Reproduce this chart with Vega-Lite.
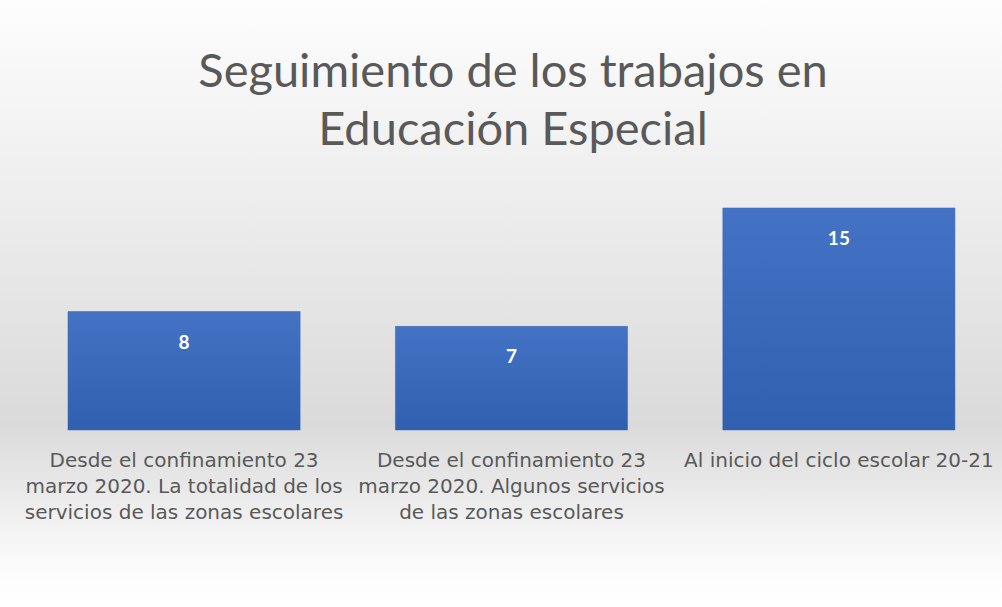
{
  "$schema": "https://vega.github.io/schema/vega-lite/v6.json",
  "width": 1002,
  "height": 607,
  "autosize": {"type": "none"},
  "padding": 0,
  "background": "#ffffff",
  "title": {
    "text": ["Seguimiento de los trabajos en", "Educación Especial"],
    "anchor": "middle",
    "frame": "group",
    "orient": "top",
    "offset": 0,
    "dy": 155,
    "dx": 12,
    "font": "Lato",
    "fontSize": 47,
    "fontWeight": "normal",
    "color": "#595959",
    "lineHeight": 58
  },
  "config": {
    "view": {
      "stroke": null,
      "fill": {
        "gradient": "linear",
        "x1": 0, "y1": 0, "x2": 0, "y2": 1,
        "stops": [
          {"offset": 0, "color": "#fdfdfd"},
          {"offset": 0.35, "color": "#ececec"},
          {"offset": 0.7, "color": "#dadada"},
          {"offset": 0.93, "color": "#fbfbfb"},
          {"offset": 1, "color": "#ffffff"}
        ]
      }
    }
  },
  "data": {
    "values": [
      {"categoria": "Desde el confinamiento 23|marzo 2020. La totalidad de los|servicios de las zonas escolares", "valor": 8},
      {"categoria": "Desde el confinamiento 23|marzo 2020.  Algunos servicios|de las zonas escolares", "valor": 7},
      {"categoria": "Al inicio del ciclo escolar 20-21", "valor": 15}
    ]
  },
  "encoding": {
    "x": {
      "field": "categoria",
      "type": "nominal",
      "sort": null,
      "scale": {"paddingInner": 0.291, "paddingOuter": 0.1757, "align": 0.591},
      "axis": {
        "title": null,
        "orient": "bottom",
        "offset": -177,
        "domain": false,
        "ticks": false,
        "grid": false,
        "labelAngle": 0,
        "labelExpr": "split(datum.label, '|')",
        "labelPadding": 20,
        "labelFont": "DejaVu Sans",
        "labelFontSize": 20,
        "labelLineHeight": 26,
        "labelColor": "#595959",
        "labelLimit": 0,
        "labelOverlap": false
      }
    },
    "y": {
      "field": "valor",
      "type": "quantitative",
      "scale": {"domain": [-11.96, 29.05], "nice": false, "zero": false},
      "axis": null
    }
  },
  "layer": [
    {
      "mark": {
        "type": "bar",
        "color": {
          "gradient": "linear",
          "x1": 0, "y1": 0, "x2": 0, "y2": 1,
          "stops": [
            {"offset": 0, "color": "#4472c4"},
            {"offset": 1, "color": "#3260b0"}
          ]
        },
        "stroke": "#3a64b0",
        "strokeWidth": 0.5
      },
      "encoding": {
        "y2": {"datum": 0}
      }
    },
    {
      "mark": {
        "type": "text",
        "baseline": "middle",
        "dy": 31,
        "color": "#ffffff",
        "font": "Lato",
        "fontWeight": "bold",
        "fontSize": 19
      },
      "encoding": {
        "text": {"field": "valor", "type": "quantitative"}
      }
    }
  ]
}
